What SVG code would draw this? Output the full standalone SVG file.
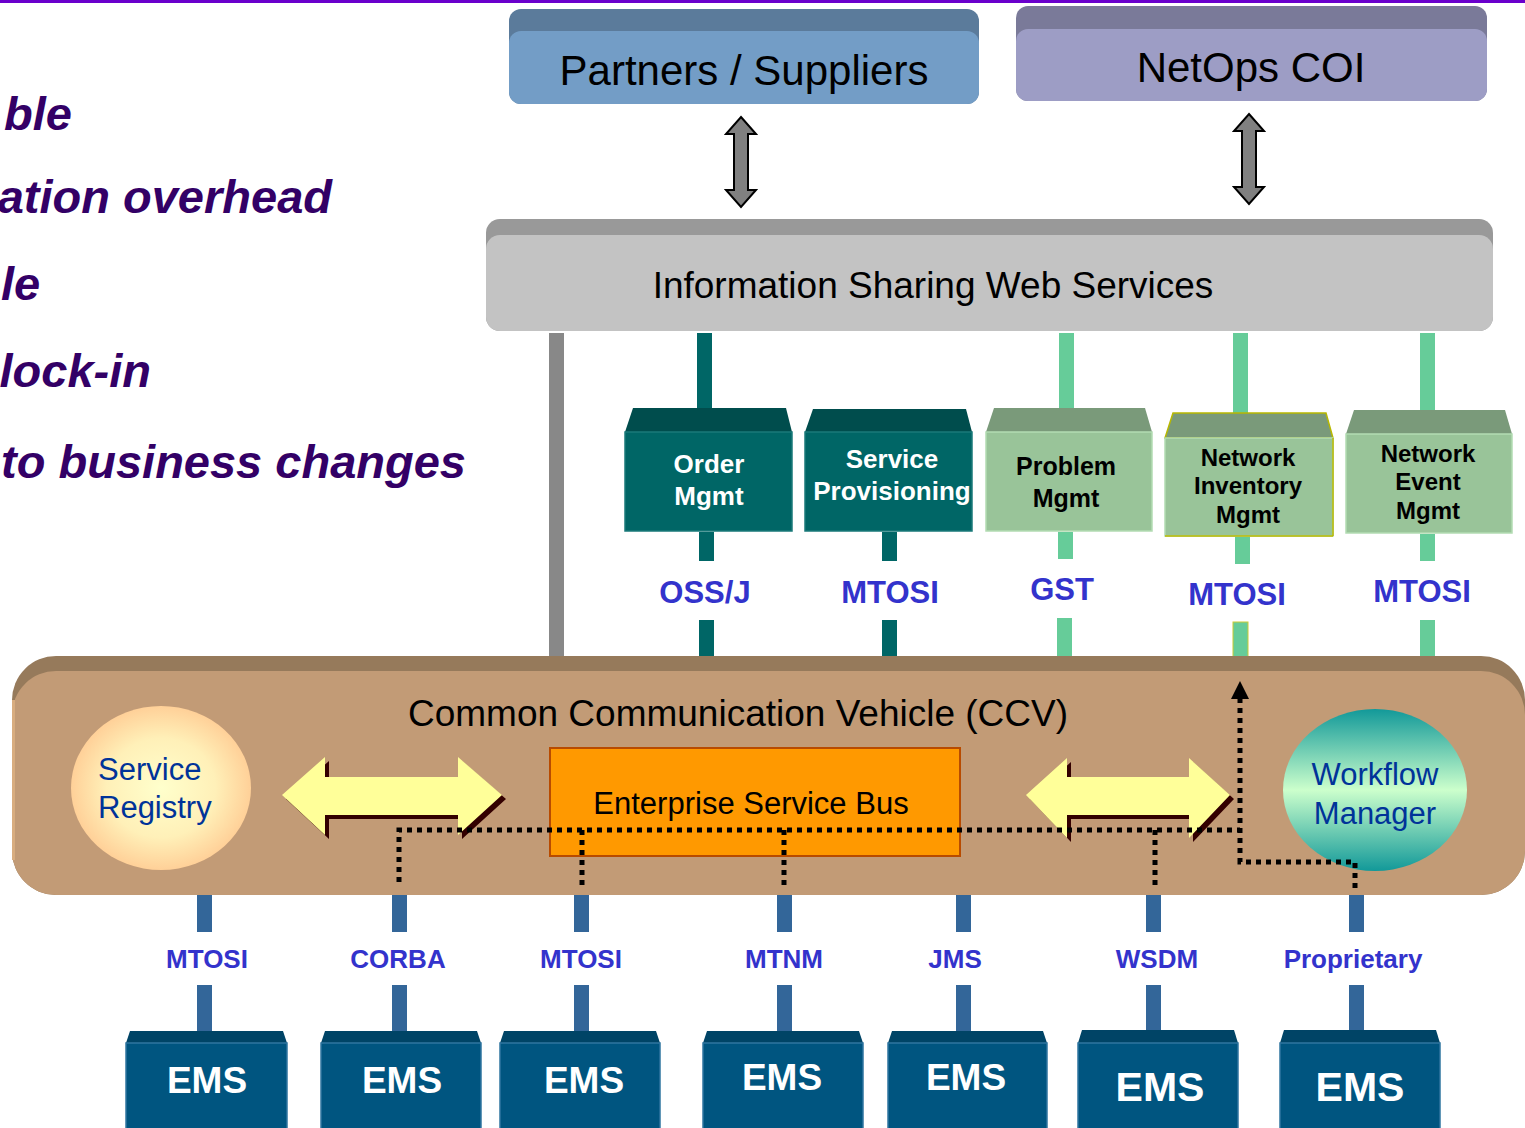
<svg xmlns="http://www.w3.org/2000/svg" width="1525" height="1128" viewBox="0 0 1525 1128">
<defs>
<style>
.t{font-family:"Liberation Sans",Arial,sans-serif;}
.side{font-family:"Liberation Sans",Arial,sans-serif;font-weight:bold;font-style:italic;font-size:47px;fill:#330066;}
.proto{font-family:"Liberation Sans",Arial,sans-serif;font-weight:bold;fill:#3333cc;text-anchor:middle;}
.mod{font-family:"Liberation Sans",Arial,sans-serif;font-weight:bold;text-anchor:middle;}
.ems{font-family:"Liberation Sans",Arial,sans-serif;font-weight:bold;fill:#ffffff;text-anchor:middle;}
.dot{fill:none;stroke:#000;stroke-width:5;stroke-dasharray:5 5;}
.tealTop{fill:#004d4d;}
.tealBody{fill:#006666;stroke:#1a7a7a;stroke-width:1.5;}
.grnTop{fill:#7a9a7a;}
.grnBody{fill:#99c499;stroke:#b3dcb3;stroke-width:1.5;}
.emsTop{fill:#004466;}
.emsBody{fill:#005580;stroke:#2f75a0;stroke-width:1.5;}
</style>
<radialGradient id="gReg" cx="0.5" cy="0.5" r="0.55">
<stop offset="0" stop-color="#ffffcc"/>
<stop offset="0.55" stop-color="#fff0b8"/>
<stop offset="1" stop-color="#ffc890"/>
</radialGradient>
<linearGradient id="gWf" x1="0" y1="0" x2="0" y2="1">
<stop offset="0" stop-color="#129999"/>
<stop offset="0.5" stop-color="#ccffcc"/>
<stop offset="1" stop-color="#129999"/>
</linearGradient>
</defs>

<rect x="0" y="0" width="1525" height="1128" fill="#ffffff"/>
<rect x="0" y="0" width="1525" height="3" fill="#6a00cc"/>

<g id="side-text">
<text class="side" x="4" y="130">ble</text>
<text class="side" x="332" y="213" text-anchor="end">ation overhead</text>
<text class="side" x="1" y="300">le</text>
<text class="side" x="151" y="387" text-anchor="end">lock-in</text>
<text class="side" x="466" y="478" text-anchor="end">to business changes</text>
</g>

<g id="partners">
<rect x="509" y="9" width="470" height="95" rx="12" fill="#5b7b9b"/>
<rect x="509" y="31" width="470" height="73" rx="12" fill="#739dc6"/>
<text class="t" x="744" y="85" font-size="42" text-anchor="middle" fill="#000">Partners / Suppliers</text>
</g>

<g id="netops">
<rect x="1016" y="6" width="471" height="95" rx="12" fill="#7a7a99"/>
<rect x="1016" y="29" width="471" height="72" rx="12" fill="#9d9dc5"/>
<text class="t" x="1251" y="82" font-size="42" text-anchor="middle" fill="#000">NetOps COI</text>
</g>

<g id="info-sharing">
<rect x="486" y="219" width="1007" height="112" rx="14" fill="#999999"/>
<rect x="486" y="235" width="1007" height="96" rx="14" fill="#c3c3c3"/>
<text class="t" x="933" y="298" font-size="37" text-anchor="middle" fill="#000">Information Sharing Web Services</text>
</g>

<g id="connectors">
<path d="M741,117 L756,134 L748,134 L748,190 L756,190 L741,207 L726,190 L734,190 L734,134 L726,134 Z" fill="#808080" stroke="#000" stroke-width="2"/>
<path d="M1249,114 L1264,131 L1256,131 L1256,187 L1264,187 L1249,204 L1234,187 L1242,187 L1242,131 L1234,131 Z" fill="#808080" stroke="#000" stroke-width="2"/>
<rect x="549" y="333" width="15" height="325" fill="#888888"/>
<rect x="697" y="333" width="15" height="76" fill="#006666"/>
<rect x="699" y="532" width="15" height="29" fill="#006666"/>
<rect x="699" y="620" width="15" height="43" fill="#006666"/>
<rect x="882" y="532" width="15" height="29" fill="#006666"/>
<rect x="882" y="620" width="15" height="43" fill="#006666"/>
<rect x="1059" y="333" width="15" height="77" fill="#66cc99"/>
<rect x="1058" y="532" width="15" height="27" fill="#66cc99"/>
<rect x="1057" y="618" width="15" height="41" fill="#66cc99"/>
<rect x="1233" y="333" width="15" height="81" fill="#66cc99"/>
<rect x="1235" y="537" width="15" height="27" fill="#66cc99"/>
<rect x="1233" y="622" width="15" height="44" fill="#66cc99" stroke="#cccc33" stroke-width="1"/>
<rect x="1420" y="333" width="15" height="78" fill="#66cc99"/>
<rect x="1420" y="534" width="15" height="27" fill="#66cc99"/>
<rect x="1420" y="620" width="15" height="43" fill="#66cc99"/>
<rect x="197" y="895" width="15" height="37" fill="#336699"/>
<rect x="197" y="985" width="15" height="47" fill="#336699"/>
<rect x="392" y="895" width="15" height="37" fill="#336699"/>
<rect x="392" y="985" width="15" height="47" fill="#336699"/>
<rect x="574" y="895" width="15" height="37" fill="#336699"/>
<rect x="574" y="985" width="15" height="47" fill="#336699"/>
<rect x="777" y="895" width="15" height="37" fill="#336699"/>
<rect x="777" y="985" width="15" height="47" fill="#336699"/>
<rect x="956" y="895" width="15" height="37" fill="#336699"/>
<rect x="956" y="985" width="15" height="47" fill="#336699"/>
<rect x="1146" y="893" width="15" height="39" fill="#336699"/>
<rect x="1146" y="985" width="15" height="47" fill="#336699"/>
<rect x="1349" y="893" width="15" height="39" fill="#336699"/>
<rect x="1349" y="985" width="15" height="47" fill="#336699"/>
</g>

<g id="upper-protocols">
<text class="proto" x="705" y="603" font-size="31">OSS/J</text>
<text class="proto" x="890" y="603" font-size="31">MTOSI</text>
<text class="proto" x="1062" y="600" font-size="31">GST</text>
<text class="proto" x="1237" y="605" font-size="31">MTOSI</text>
<text class="proto" x="1422" y="602" font-size="31">MTOSI</text>
</g>

<g id="order-mgmt">
<polygon class="tealTop" points="633,408 786,408 792,432 625,432"/>
<rect class="tealBody" x="625" y="432" width="167" height="99"/>
<text class="mod" x="709" y="473" font-size="26" fill="#fff">Order</text>
<text class="mod" x="709" y="505" font-size="26" fill="#fff">Mgmt</text>
</g>

<g id="service-provisioning">
<polygon class="tealTop" points="813,409 966,409 972,432 805,432"/>
<rect class="tealBody" x="805" y="432" width="167" height="99"/>
<text class="mod" x="892" y="468" font-size="26" fill="#fff">Service</text>
<text class="mod" x="892" y="500" font-size="26" fill="#fff">Provisioning</text>
</g>

<g id="problem-mgmt">
<polygon class="grnTop" points="994,408 1145,408 1152,432 986,432"/>
<rect class="grnBody" x="986" y="432" width="166" height="99"/>
<text class="mod" x="1066" y="475" font-size="25" fill="#000">Problem</text>
<text class="mod" x="1066" y="507" font-size="25" fill="#000">Mgmt</text>
</g>

<g id="network-inventory">
<polygon class="grnTop" points="1173,413 1326,413 1333,438 1165,438" stroke="#b8b800" stroke-width="1.5"/>
<rect class="grnBody" x="1165" y="438" width="168" height="98"/>
<line x1="1165" y1="536" x2="1333" y2="536" stroke="#b8b800" stroke-width="1.5"/>
<line x1="1333" y1="438" x2="1333" y2="536" stroke="#b8b800" stroke-width="1.5"/>
<text class="mod" x="1248" y="466" font-size="24" fill="#000">Network</text>
<text class="mod" x="1248" y="494" font-size="24" fill="#000">Inventory</text>
<text class="mod" x="1248" y="523" font-size="24" fill="#000">Mgmt</text>
</g>

<g id="network-event">
<polygon class="grnTop" points="1354,410 1505,410 1512,434 1346,434"/>
<rect class="grnBody" x="1346" y="434" width="166" height="99"/>
<text class="mod" x="1428" y="462" font-size="24" fill="#000">Network</text>
<text class="mod" x="1428" y="490" font-size="24" fill="#000">Event</text>
<text class="mod" x="1428" y="519" font-size="24" fill="#000">Mgmt</text>
</g>

<g id="ccv">
<rect x="12" y="656" width="1513" height="239" rx="44" fill="#967a5b"/>
<rect x="12" y="671" width="1513" height="224" rx="44" fill="#c29b76"/>
<rect x="12" y="700" width="3" height="160" fill="#d8ad80"/>
<text class="t" x="738" y="726" font-size="37" text-anchor="middle" fill="#000">Common Communication Vehicle (CCV)</text>
</g>

<g id="service-registry">
<ellipse cx="161" cy="788" rx="90" ry="82" fill="url(#gReg)"/>
<text class="t" x="98" y="780" font-size="31" fill="#003399">Service</text>
<text class="t" x="98" y="818" font-size="31" fill="#003399">Registry</text>
</g>

<g id="workflow-manager">
<ellipse cx="1375" cy="790" rx="92" ry="81" fill="url(#gWf)"/>
<text class="t" x="1375" y="785" font-size="31" fill="#003399" text-anchor="middle">Workflow</text>
<text class="t" x="1375" y="824" font-size="31" fill="#003399" text-anchor="middle">Manager</text>
</g>

<g id="yellow-arrows">
<polygon points="286,799 329,761 329,781 462,781 462,761 506,799 462,839 462,819 329,819 329,839" fill="#330000"/>
<polygon points="282,795 325,757 325,777 458,777 458,757 502,795 458,835 458,815 325,815 325,835" fill="#ffff99"/>
<polygon points="1030,799 1071,762 1071,781 1193,781 1193,762 1234,799 1193,842 1193,819 1071,819 1071,842" fill="#330000"/>
<polygon points="1026,795 1067,758 1067,777 1189,777 1189,758 1230,795 1189,838 1189,815 1067,815 1067,838" fill="#ffff99"/>
</g>

<g id="esb">
<rect x="550" y="748" width="410" height="108" fill="#ff9900" stroke="#b84b00" stroke-width="2"/>
<text class="t" x="751" y="814" font-size="31" text-anchor="middle" fill="#000">Enterprise Service Bus</text>
</g>

<g id="dotted-flows">
<polyline class="dot" points="399,882 399,830 1240,830"/>
<line class="dot" x1="582" y1="830" x2="582" y2="886"/>
<line class="dot" x1="784" y1="830" x2="784" y2="886"/>
<line class="dot" x1="1155" y1="830" x2="1155" y2="886"/>
<polyline class="dot" points="1355,888 1355,862 1240,862 1240,698"/>
<path d="M1240,681 L1249,699 L1231,699 Z" fill="#000"/>
</g>

<g id="lower-protocols">
<text class="proto" x="207" y="968" font-size="26">MTOSI</text>
<text class="proto" x="398" y="968" font-size="26">CORBA</text>
<text class="proto" x="581" y="968" font-size="26">MTOSI</text>
<text class="proto" x="784" y="968" font-size="26">MTNM</text>
<text class="proto" x="955" y="968" font-size="26">JMS</text>
<text class="proto" x="1157" y="968" font-size="26">WSDM</text>
<text class="proto" x="1353" y="968" font-size="26">Proprietary</text>
</g>

<g id="ems-1">
<polygon class="emsTop" points="130,1031 283,1031 287,1043 126,1043"/>
<rect class="emsBody" x="126" y="1043" width="161" height="90"/>
<text class="ems" x="207" y="1093" font-size="37">EMS</text>
</g>
<g id="ems-2">
<polygon class="emsTop" points="325,1031 477,1031 481,1043 321,1043"/>
<rect class="emsBody" x="321" y="1043" width="160" height="90"/>
<text class="ems" x="402" y="1093" font-size="37">EMS</text>
</g>
<g id="ems-3">
<polygon class="emsTop" points="504,1031 656,1031 660,1043 500,1043"/>
<rect class="emsBody" x="500" y="1043" width="160" height="90"/>
<text class="ems" x="584" y="1093" font-size="37">EMS</text>
</g>
<g id="ems-4">
<polygon class="emsTop" points="707,1031 859,1031 863,1043 703,1043"/>
<rect class="emsBody" x="703" y="1043" width="160" height="90"/>
<text class="ems" x="782" y="1090" font-size="37">EMS</text>
</g>
<g id="ems-5">
<polygon class="emsTop" points="892,1031 1043,1031 1047,1043 888,1043"/>
<rect class="emsBody" x="888" y="1043" width="159" height="90"/>
<text class="ems" x="966" y="1090" font-size="37">EMS</text>
</g>
<g id="ems-6">
<polygon class="emsTop" points="1082,1030 1234,1030 1238,1043 1078,1043"/>
<rect class="emsBody" x="1078" y="1043" width="160" height="90"/>
<text class="ems" x="1160" y="1101" font-size="41">EMS</text>
</g>
<g id="ems-7">
<polygon class="emsTop" points="1284,1030 1436,1030 1440,1043 1280,1043"/>
<rect class="emsBody" x="1280" y="1043" width="160" height="90"/>
<text class="ems" x="1360" y="1101" font-size="41">EMS</text>
</g>
</svg>
